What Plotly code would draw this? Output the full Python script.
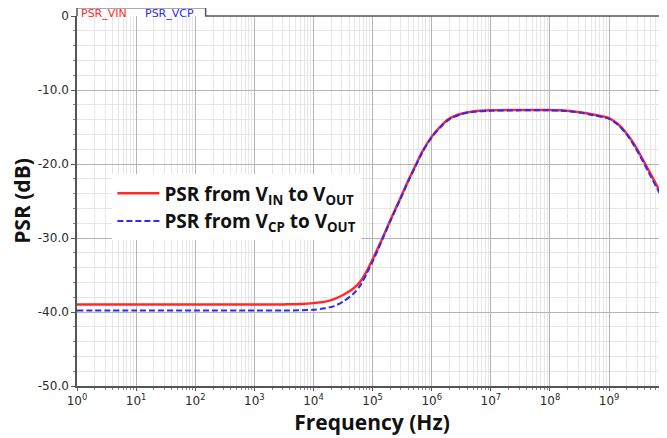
import numpy as np
import plotly.graph_objects as go

# log10(frequency in Hz) sample points
vin_logf = [0, 1, 2, 3, 3.5, 3.8, 4.0, 4.2, 4.35, 4.5, 4.68, 4.8, 4.9, 5.0, 5.1, 5.18, 5.3,
            5.46, 5.6, 5.72, 5.85, 6.0, 6.15, 6.31, 6.5, 6.7, 7.0, 7.5, 8.0, 8.2, 8.5,
            8.73, 9.0, 9.15, 9.29, 9.43, 9.57, 9.7, 9.8, 9.98]
vin_db = [-39.0, -39.0, -39.0, -39.0, -38.97, -38.92, -38.8, -38.6, -38.25, -37.7, -36.8, -35.8,
          -34.5, -32.9, -31.2, -29.8, -27.6, -24.8, -22.3, -20.3, -18.2, -16.3, -14.9, -13.8,
          -13.2, -12.9, -12.75, -12.7, -12.7, -12.75, -13.0, -13.3, -13.8, -14.6, -15.8,
          -17.4, -19.4, -21.3, -22.8, -25.5]

vcp_logf = [0, 1, 2, 3, 3.5, 3.8, 4.0, 4.2, 4.35, 4.5, 4.68, 4.8, 4.9, 5.0, 5.1, 5.18, 5.3,
            5.46, 5.6, 5.72, 5.85, 6.0, 6.15, 6.31, 6.5, 6.7, 7.0, 7.5, 8.0, 8.2, 8.5,
            8.73, 9.0, 9.15, 9.29, 9.43, 9.57, 9.7, 9.8, 9.98]
vcp_db = [-39.8, -39.8, -39.8, -39.8, -39.8, -39.77, -39.7, -39.5, -39.2, -38.6, -37.5, -36.3,
          -34.8, -33.2, -31.4, -29.9, -27.7, -24.9, -22.4, -20.4, -18.3, -16.4, -15.0, -13.9,
          -13.25, -12.95, -12.8, -12.75, -12.75, -12.8, -13.05, -13.4, -13.9, -14.7, -15.9,
          -17.6, -19.6, -21.6, -23.1, -25.9]

x_tick_exp = [0, 1, 2, 3, 4, 5, 6, 7, 8, 9]
y_tick_vals = [0, -10, -20, -30, -40, -50]
y_tick_text = ["0", "-10.0", "-20.0", "-30.0", "-40.0", "-50.0"]

fig = go.Figure()
fig.add_trace(go.Scatter(
    x=np.power(10.0, vin_logf), y=vin_db, mode="lines", line_shape="spline",
    line_smoothing=0.8,
    name="<b>PSR from V<sub>IN</sub> to V<sub>OUT</sub></b>",
    line=dict(color="#ff2a2a", width=2.5)))
fig.add_trace(go.Scatter(
    x=np.power(10.0, vcp_logf), y=vcp_db, mode="lines", line_shape="spline",
    line_smoothing=0.8,
    name="<b>PSR from V<sub>CP</sub> to V<sub>OUT</sub></b>",
    line=dict(color="#2a2aff", width=2, dash="6px,3px")))

tick_font = dict(family="DejaVu Sans", size=12, color="#2a2a2a")
title_font = dict(family="Open Sans", size=21, color="#111111")

# the page body adds an 8px offset, so the figure is 8px smaller on each side
fig.update_layout(
    width=659, height=430,
    margin=dict(l=69, r=0, t=8, b=52),
    plot_bgcolor="white", paper_bgcolor="white",
    showlegend=True,
    legend=dict(x=0.06, y=0.572, xanchor="left", yanchor="top",
                bgcolor="white", borderwidth=0,
                font=dict(family="Open Sans", size=19, color="#111111"),
                itemwidth=42, tracegroupgap=0),
    xaxis=dict(type="log", range=[0, 9.98], automargin=False,
               tickvals=[10.0 ** e for e in x_tick_exp],
               ticktext=["10<sup>%d</sup>" % e for e in x_tick_exp],
               tickfont=tick_font,
               showline=True, linecolor="#555555", linewidth=1.5,
               ticks="outside", ticklen=3, tickcolor="#555555",
               showgrid=True, gridcolor="#b4b4b4", gridwidth=1,
               minor=dict(dtick="D1", showgrid=True, gridcolor="#e6e6e6",
                          ticks="outside", ticklen=2, tickcolor="#888888"),
               zeroline=False,
               title=dict(text="<b>Frequency (Hz)</b>", font=title_font, standoff=6)),
    yaxis=dict(range=[-50, 0], automargin=False,
               tickvals=y_tick_vals, ticktext=y_tick_text,
               tickfont=tick_font,
               showline=True, linecolor="#555555", linewidth=1.5,
               ticks="outside", ticklen=4, tickcolor="#555555",
               showgrid=True, gridcolor="#b4b4b4", gridwidth=1,
               minor=dict(dtick=2, showgrid=True, gridcolor="#e6e6e6",
                          ticks="outside", ticklen=2, tickcolor="#888888"),
               zeroline=False,
               title=dict(text="<b>PSR (dB)</b>", font=title_font, standoff=2)),
)

# tab at top-left and the top border line
fig.add_shape(type="path", xref="paper", yref="paper",
              path="M 0,1 L 0,1.022 L 0.218,1.022 L 0.218,1 L 1,1",
              line=dict(color="#555555", width=1.5), fillcolor="rgba(0,0,0,0)")
fig.add_annotation(text="PSR_VIN", xref="paper", yref="paper", x=0.004, y=1.008,
                   xanchor="left", yanchor="middle", showarrow=False,
                   font=dict(family="DejaVu Sans", size=11, color="#ff2a2a"))
fig.add_annotation(text="PSR_VCP", xref="paper", yref="paper", x=0.112, y=1.008,
                   xanchor="left", yanchor="middle", showarrow=False,
                   font=dict(family="DejaVu Sans", size=11, color="#2a2aff"))

fig.write_html("out.html")
